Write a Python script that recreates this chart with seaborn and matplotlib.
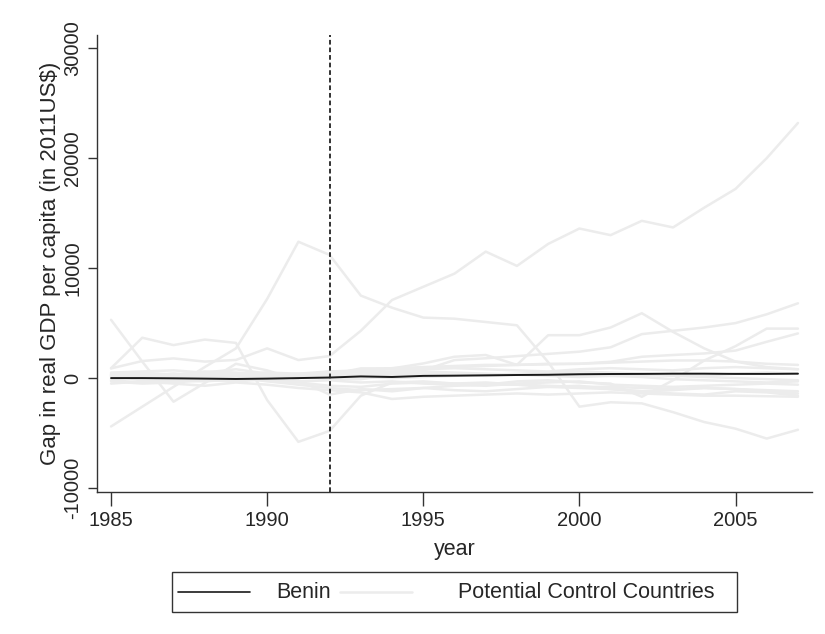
import matplotlib
matplotlib.use("Agg")
import matplotlib.pyplot as plt
import numpy as np
import pandas as pd
import seaborn as sns
from matplotlib.lines import Line2D
from matplotlib.patches import Rectangle

years = list(range(1985, 2008))

# Gap between actual and synthetic real GDP per capita (2011 US$)
benin = [0, 0, -20, -50, -80, -50, 0, 50, 150, 100, 200, 220, 250, 280,
         300, 350, 370, 380, 400, 400, 380, 380, 400]

# Placebo gaps for the donor pool
ctrl_a = [-4400, -2600, -800, 1000, 2700, 7200, 12400, 11200, 7500, 6400, 5500, 5400,
          5100, 4800, 1450, -2600, -2200, -2300, -3100, -4000, -4600, -5500, -4700]
ctrl_b = [880, 1550, 1790, 1500, 1650, 2700, 1640, 2000, 4300, 7100, 8300, 9500,
          11500, 10200, 12200, 13600, 13000, 14300, 13700, 15500, 17200, 20000, 23200]
ctrl_c = [5300, 1500, -2150, -450, 1300, 700, -200, -1500, -1000, -1200, -900, -700,
          -600, -600, -800, -700, -1000, -1200, -1400, -1500, -1200, -1300, -1600]
ctrl_d = [900, 3670, 3000, 3500, 3200, -2000, -5800, -4800, -1600, -400, -300, -500,
          -600, -300, -200, -400, -500, -1700, -200, 1600, 2900, 4500, 4500]
ctrl_e = [400, 500, 300, 600, 500, 300, 100, 300, 880, 880, 1330, 1940,
          2100, 1200, 3900, 3900, 4600, 5900, 4200, 2700, 1500, 1000, 800]
ctrl_f = [300, 100, 400, 200, 300, 500, 200, -100, -100, 300, 700, 1640,
          1800, 2000, 2200, 2400, 2800, 4000, 4300, 4600, 5000, 5800, 6800]
ctrl_g = [200, 400, 300, 500, 300, 200, 400, 600, 700, 800, 900, 1000,
          1100, 1200, 1250, 1300, 1480, 1940, 2100, 2240, 2500, 3300, 4060]
ctrl_h = [300, 200, 100, 300, 200, 100, 300, 500, 700, 900, 1000, 1100,
          1200, 1200, 1300, 1300, 1400, 1500, 1600, 1600, 1500, 1300, 1200]
ctrl_i = [-200, -400, -200, -300, -100, -200, -400, -700, -800, -500, -400, -500,
          -400, -600, -700, -800, -800, -900, -1000, -900, -1000, -1100, -1200]
ctrl_j = [500, 600, 700, 500, 800, 400, 200, 600, 500, 600, 800, 900,
          800, 700, 600, 800, 900, 800, 700, 900, 1000, 900, 800]
ctrl_k = [-500, -300, -500, -700, -400, -600, -900, -1100, -1300, -1900, -1700, -1600,
          -1500, -1400, -1500, -1400, -1300, -1400, -1500, -1600, -1600, -1650, -1700]
ctrl_l = [100, 0, -100, 100, 0, 200, 100, 300, 200, 300, 400, 300,
          200, 300, 400, 300, 200, 300, 200, 100, 0, -100, -200]
ctrl_m = [-100, 100, 200, 0, -200, -100, -300, -200, -400, -300, -500, -600,
          -700, -500, -400, -300, -600, -700, -800, -700, -600, -500, -600]
ctrl_n = [200, -200, -300, -100, 300, 500, 400, 200, 100, 0, 100, 200,
          300, 400, 500, 600, 500, 400, 300, 200, 400, 500, 400]
ctrl_o = [0, 300, 400, 200, 100, -300, -600, -900, -1100, -1000, -900, -1100,
          -1200, -1000, -800, -900, -1000, -1200, -1100, -900, -1000, -1200, -1400]
ctrl_p = [-300, -500, -400, -200, -300, -100, 200, 400, 300, 500, 600, 500,
          400, 300, 200, 100, 200, 100, -100, -200, -300, -400, -300]

controls = {
    "a": ctrl_a, "b": ctrl_b, "c": ctrl_c, "d": ctrl_d, "e": ctrl_e,
    "f": ctrl_f, "g": ctrl_g, "h": ctrl_h, "i": ctrl_i, "j": ctrl_j,
    "k": ctrl_k, "l": ctrl_l, "m": ctrl_m, "n": ctrl_n, "o": ctrl_o,
    "p": ctrl_p,
}

legend_labels = ["Benin", "Potential Control Countries"]
treatment_year = 1992

ctrl_df = pd.DataFrame(
    [(name, y, v) for name, vals in controls.items() for y, v in zip(years, vals)],
    columns=["country", "year", "gap"],
)
benin_df = pd.DataFrame({"year": years, "gap": benin})

sns.set_theme(style="white")
plt.rcParams["font.family"] = ["Liberation Sans", "DejaVu Sans"]
plt.rcParams["axes.unicode_minus"] = False

W, H = 825, 634
fig = plt.figure(figsize=(W / 100, H / 100), dpi=100)
ax = fig.add_axes([97 / W, 1 - 492 / H, 715 / W, (492 - 35) / H])

grey = "#ececec"
black = "#1a1a1a"
sns.lineplot(data=ctrl_df, x="year", y="gap", units="country", estimator=None,
             color=grey, lw=1.8, ax=ax, legend=False)
sns.lineplot(data=benin_df, x="year", y="gap", color=black, lw=1.4,
             ax=ax, legend=False)

ax.axvline(treatment_year, color="#222222", lw=1.3, ls=(0, (2.6, 1.6)), zorder=3)

ax.set_xlim(1984.55, 2007.45)
ax.set_ylim(-10360, 31200)
ax.set_xticks([1985, 1990, 1995, 2000, 2005])
ax.set_yticks([-10000, 0, 10000, 20000, 30000])
ax.set_xlabel("year", fontsize=15.5, labelpad=6.5)
ax.set_ylabel("Gap in real GDP per capita (in 2011US$)", fontsize=16, labelpad=2)

for side in ["top", "right"]:
    ax.spines[side].set_visible(False)
for side in ["left", "bottom"]:
    ax.spines[side].set_color("#333333")
    ax.spines[side].set_linewidth(1.0)

ax.tick_params(axis="x", direction="out", length=10, width=1.0, color="#333333",
               labelsize=14.5, pad=4, bottom=True)
ax.tick_params(axis="y", direction="out", length=6.5, width=1.0, color="#333333",
               labelsize=14.5, pad=4, left=True)
for lbl in ax.get_yticklabels():
    lbl.set_rotation(90)
    lbl.set_va("center")
    lbl.set_ha("right")
ax.grid(False)

# Legend box below the plot, laid out in pixel units
def fx(px):
    return px / W

def fy(py):
    return 1 - py / H

box_l, box_r, box_t, box_b = 172, 737, 572, 612
ymid = (box_t + box_b) / 2
fig.add_artist(Rectangle((fx(box_l), fy(box_b)), fx(box_r - box_l), (box_b - box_t) / H,
                         transform=fig.transFigure, facecolor="white",
                         edgecolor="#333333", lw=1.0))
fig.add_artist(Line2D([fx(178), fx(250)], [fy(ymid)] * 2, transform=fig.transFigure,
                      color=black, lw=1.2))
fig.text(fx(276), fy(ymid), legend_labels[0], fontsize=15.5, va="center", ha="left")
fig.add_artist(Line2D([fx(340), fx(412)], [fy(ymid)] * 2, transform=fig.transFigure,
                      color=grey, lw=1.8))
fig.text(fx(458), fy(ymid), legend_labels[1], fontsize=15.5, va="center", ha="left")

fig.savefig("out.png", dpi=100)
